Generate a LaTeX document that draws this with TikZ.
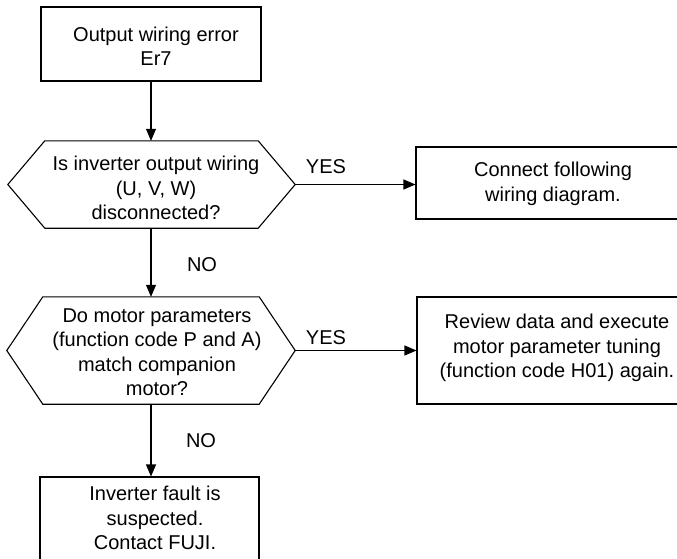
\documentclass[tikz,border=0pt]{standalone}
\usepackage{fontspec}
\setmainfont{Liberation Sans}
\usetikzlibrary{arrows.meta}
\begin{document}
\begin{tikzpicture}[x=1pt,y=-1pt,
  every node/.style={font=\fontsize{20}{24.5}\selectfont, align=center, inner sep=0pt},
  conn/.style={line width=1.1pt, -{Triangle[length=12pt,width=10pt]}},
  lbl/.style={}
]
\useasboundingbox (0,0) rectangle (677,558);
\clip (0,0) rectangle (677,558);

% start box
\node[draw, line width=2.4pt, minimum width=220, minimum height=74] (start) at (151,44) {};
\node (startt) at (156,46) {Output wiring error\\Er7};

% decision 1
\node[minimum width=287, minimum height=87] (h1) at (151.5,184.5) {};
\draw[line width=1.1pt] ([xshift=37]h1.north west) -- ([xshift=-37]h1.north east) -- (h1.east)
  -- ([xshift=-37]h1.south east) -- ([xshift=37]h1.south west) -- (h1.west) -- cycle;
\node (h1t) at (156,188) {Is inverter output wiring\\(U, V, W)\\disconnected?};

% decision 2
\node[minimum width=288, minimum height=107] (h2) at (151,350.5) {};
\draw[line width=1.1pt] ([xshift=36]h2.north west) -- ([xshift=-36]h2.north east) -- (h2.east)
  -- ([xshift=-36]h2.south east) -- ([xshift=36]h2.south west) -- (h2.west) -- cycle;
\node (h2t) at (157,352) {Do motor parameters\\(function code P and A)\\match companion\\motor?};

% result boxes
\node[draw, line width=1.1pt, minimum width=274, minimum height=72] (r1) at (553,183) {};
\node (r1t) at (553,184) {Connect following\\wiring diagram.};

\node[draw, line width=1.1pt, minimum width=280, minimum height=107] (r2) at (557,350.5) {};
\node (r2t) at (557,348) {Review data and execute\\motor parameter tuning\\(function code H01) again.};

\node[draw, line width=1.1pt, minimum width=219, minimum height=100] (fault) at (149.5,527) {};
\node (faultt) at (155,518) {Inverter fault is\\suspected.\\Contact FUJI.};

% connectors
\draw[conn] (start.south) -- (start.south |- h1.north);
\draw[conn] (h1.east) -- (r1.west |- h1.east);
\draw[conn] (h1.south -| h2.north) -- (h2.north);
\draw[conn] (h2.east) -- (r2.west |- h2.east);
\draw[conn] (h2.south) -- (h2.south |- fault.north);

% labels
\node[lbl] (yes1) at (326,167) {YES};
\node[lbl] (no1) at (202,265) {NO};
\node[lbl] (yes2) at (326,338) {YES};
\node[lbl] (no2) at (201,441) {NO};
\end{tikzpicture}
\end{document}
